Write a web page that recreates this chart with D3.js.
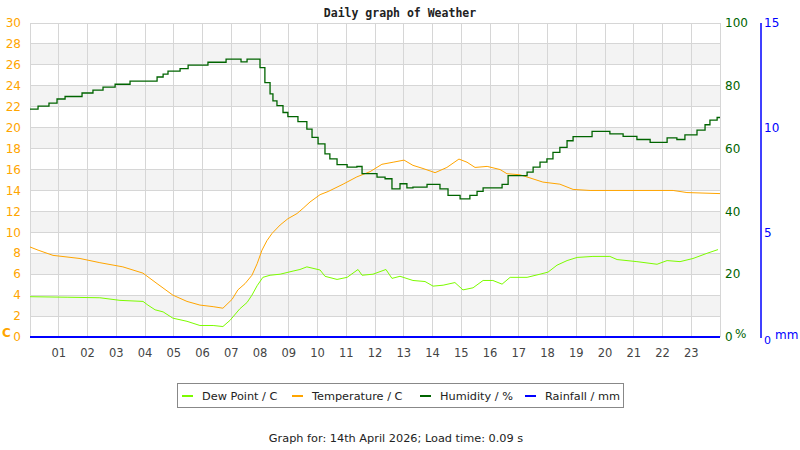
<!DOCTYPE html>
<html>
<head>
<meta charset="utf-8">
<script src="https://cdn.jsdelivr.net/npm/d3@7"></script>
<style>
  body { margin: 0; background: #fff; }
</style>
</head>
<body>
<svg id="chart"></svg>
<script>
const width = 800;
const height = 450;
const margin = { top: 23, right: 80, bottom: 113, left: 30 };

// readings (hour of day, value)
const tempHours = [0.00, 0.28, 0.80, 1.74, 2.43, 3.23, 3.93, 4.42, 4.97, 5.46, 5.91, 6.37, 6.71, 7.03, 7.23, 7.48, 7.72, 7.90,
    8.07, 8.24, 8.42, 8.70, 8.97, 9.29, 9.50, 9.74, 10.09, 10.37, 10.89, 11.37, 11.83, 12.24, 12.63, 13.01, 13.32, 13.67,
    14.09, 14.50, 14.92, 15.20, 15.48, 15.90, 16.35, 16.59, 17.04, 17.39, 17.84, 18.43, 18.89, 19.48, 22.37, 22.85, 24.00];
const temperature = [8.6, 8.3, 7.8, 7.5, 7.1, 6.7, 6.1, 5.1, 4.0, 3.4, 3.05, 2.9, 2.75, 3.6, 4.5, 5.1, 5.9, 7.0,
    8.3, 9.2, 9.9, 10.7, 11.3, 11.8, 12.3, 12.9, 13.6, 13.9, 14.6, 15.3, 15.8, 16.5, 16.7, 16.9, 16.4, 16.1,
    15.7, 16.2, 17.0, 16.7, 16.2, 16.3, 16.0, 15.6, 15.5, 15.2, 14.8, 14.6, 14.1, 14.0, 14.0, 13.8, 13.7];

const dewHours = [0.00, 1.29, 2.43, 3.13, 3.93, 4.10, 4.35, 4.63, 4.97, 5.46, 5.91, 6.37, 6.71, 6.96, 7.30, 7.55, 7.72, 7.90,
    8.10, 8.35, 8.70, 9.15, 9.39, 9.63, 10.09, 10.26, 10.68, 11.03, 11.41, 11.55, 11.93, 12.38, 12.59, 12.87, 13.32, 13.74,
    14.02, 14.37, 14.78, 15.06, 15.41, 15.76, 16.10, 16.42, 16.70, 17.29, 17.74, 18.02, 18.33, 18.68, 19.03, 19.58, 20.17,
    20.42, 21.11, 21.81, 22.16, 22.61, 23.06, 23.55, 23.93];
const dewPoint = [3.85, 3.8, 3.75, 3.5, 3.4, 3.05, 2.6, 2.4, 1.8, 1.5, 1.1, 1.1, 1.0, 1.6, 2.7, 3.3, 4.0, 4.9,
    5.7, 5.9, 6.0, 6.3, 6.45, 6.7, 6.4, 5.8, 5.5, 5.7, 6.45, 5.9, 6.0, 6.45, 5.6, 5.8, 5.4, 5.3,
    4.86, 4.95, 5.2, 4.5, 4.7, 5.4, 5.4, 5.05, 5.7, 5.7, 6.0, 6.2, 6.86, 7.3, 7.6, 7.7, 7.7,
    7.4, 7.2, 6.95, 7.3, 7.2, 7.5, 8.0, 8.35];

const humHours = [0.00, 0.28, 0.66, 0.94, 1.22, 1.81, 2.19, 2.54, 2.96, 3.48, 4.42, 4.63, 4.80, 5.22, 5.50, 6.19, 6.82,
    7.34, 7.55, 7.90, 8.00, 8.17, 8.35, 8.45, 8.59, 8.80, 8.97, 9.32, 9.63, 9.81, 10.02, 10.26, 10.43, 10.68, 11.03,
    11.37, 11.55, 12.07, 12.35, 12.59, 12.87, 13.11, 13.32, 13.81, 14.26, 14.54, 14.96, 15.30, 15.55, 15.76, 16.42,
    16.63, 17.29, 17.50, 17.74, 17.98, 18.19, 18.43, 18.68, 18.89, 19.55, 20.17, 20.63, 21.11, 21.57, 22.16, 22.50,
    22.78, 23.20, 23.48, 23.65, 23.90, 24.00];
const humidity = [72.6, 73.5, 74.5, 75.8, 76.6, 77.7, 78.6, 79.6, 80.5, 81.5, 82.8, 83.7, 84.7, 85.5, 86.6, 87.5, 88.5,
    87.6, 88.5, 88.5, 85.8, 81.0, 77.4, 75.2, 73.7, 71.5, 70.2, 68.6, 66.2, 63.6, 61.5, 58.3, 56.7, 54.9, 54.1,
    54.3, 52.0, 50.9, 50.4, 47.2, 48.8, 47.5, 47.7, 48.6, 47.2, 45.1, 44.0, 45.1, 46.4, 47.5, 48.6,
    51.4, 52.5, 54.1, 55.7, 56.7, 58.8, 60.4, 62.5, 63.8, 65.5, 64.7, 63.9, 62.9, 62.0, 63.4, 62.9,
    64.4, 65.9, 67.6, 69.1, 69.9, 69.9];

const rainHours = [0, 24];
const rainfall = [0, 0];

const hourLabels = ["01", "02", "03", "04", "05", "06", "07", "08", "09", "10", "11", "12",
    "13", "14", "15", "16", "17", "18", "19", "20", "21", "22", "23"];
const tempTicks = [0, 2, 4, 6, 8, 10, 12, 14, 16, 18, 20, 22, 24, 26, 28, 30];
const humTicks = [0, 20, 40, 60, 80, 100];
const rainTicks = [0, 5, 10, 15];

const series = [
    { name: "Dew Point / C", color: "#7cfc00" },
    { name: "Temperature / C", color: "#ffa500" },
    { name: "Humidity / %", color: "#006400" },
    { name: "Rainfall / mm", color: "#0000ff" }
];

const sans = "DejaVu Sans, sans-serif";

const svg = d3.select("#chart")
    .attr("width", width)
    .attr("height", height)
    .attr("font-family", sans);

const x = d3.scaleLinear().domain([0, 24]).range([margin.left, width - margin.right]);
const yT = d3.scaleLinear().domain([0, 30]).range([height - margin.bottom, margin.top]);
const yH = d3.scaleLinear().domain([0, 100]).range([height - margin.bottom, margin.top]);
const yR = d3.scaleLinear().domain([0, 15]).range([height - margin.bottom, margin.top]);

const plotL = x(0), plotR = x(24), plotT = yT(30), plotB = yT(0);

// alternating bands
svg.append("g").selectAll("rect")
    .data(tempTicks.filter(t => t < 30 && t % 4 === 2))
    .enter().append("rect")
    .attr("x", plotL)
    .attr("width", plotR - plotL)
    .attr("y", d => yT(d + 2))
    .attr("height", d => yT(d) - yT(d + 2))
    .attr("fill", "#f3f3f3");

// grid
const grid = svg.append("g").attr("stroke", "#d6d6d6").attr("shape-rendering", "crispEdges");
grid.selectAll(".h").data(tempTicks).enter().append("line")
    .attr("x1", plotL).attr("x2", plotR)
    .attr("y1", d => yT(d)).attr("y2", d => yT(d));
grid.selectAll(".v").data(d3.range(0, 25)).enter().append("line")
    .attr("x1", d => x(d)).attr("x2", d => x(d))
    .attr("y1", plotT).attr("y2", plotB);

// left axis labels
svg.append("g").selectAll("text")
    .data(tempTicks).enter().append("text")
    .attr("x", 21).attr("y", d => yT(d)).attr("dy", "0.35em")
    .attr("text-anchor", "end")
    .attr("font-size", 12)
    .attr("fill", "#ffa500")
    .text(d => d);
svg.append("text").attr("x", 2).attr("y", 337).attr("font-size", 12).attr("font-weight", "bold")
    .attr("fill", "#ffa500").text("C");

// humidity axis labels
svg.append("g").selectAll("text")
    .data(humTicks).enter().append("text")
    .attr("x", plotR + 5).attr("y", d => yH(d)).attr("dy", "0.35em")
    .attr("font-size", 12)
    .attr("fill", "#006400")
    .text(d => d);
svg.append("text").attr("x", plotR + 15).attr("y", 338).attr("font-size", 12)
    .attr("fill", "#006400").text("%");

// rainfall axis
const rainX = 761;
svg.append("line").attr("x1", rainX).attr("x2", rainX).attr("y1", plotT).attr("y2", plotB + 1)
    .attr("stroke", "#0000ff").attr("stroke-width", 1.5);
svg.append("g").selectAll("text")
    .data(rainTicks).enter().append("text")
    .attr("x", rainX + 3).attr("y", d => yR(d) + (d === 0 ? 3 : 0)).attr("dy", "0.35em")
    .attr("font-size", d => d === 0 ? 11 : 12)
    .attr("fill", "#0000ff")
    .text(d => d);
svg.append("text").attr("x", rainX + 14).attr("y", 339).attr("font-size", 12)
    .attr("fill", "#0000ff").text("mm");

// hour labels
svg.append("g").selectAll("text")
    .data(hourLabels).enter().append("text")
    .attr("x", (d, i) => x(i + 1)).attr("y", 357)
    .attr("text-anchor", "middle")
    .attr("font-size", 11.5)
    .attr("fill", "#444")
    .text(d => d);

// series lines
const lineOf = (hours, vals, y, curve) => d3.line()
    .x((d, i) => x(hours[i]))
    .y(d => y(d))
    .curve(curve)(vals);

svg.append("path").attr("d", lineOf(dewHours, dewPoint, yT, d3.curveLinear))
    .attr("fill", "none").attr("stroke", "#7cfc00").attr("stroke-width", 1);
svg.append("path").attr("d", lineOf(tempHours, temperature, yT, d3.curveLinear))
    .attr("fill", "none").attr("stroke", "#ffa500").attr("stroke-width", 1);
svg.append("path").attr("d", lineOf(humHours, humidity, yH, d3.curveStepAfter))
    .attr("fill", "none").attr("stroke", "#006400").attr("stroke-width", 1.3);
svg.append("path").attr("d", lineOf(rainHours, rainfall, yR, d3.curveLinear))
    .attr("fill", "none").attr("stroke", "#0000ff").attr("stroke-width", 2);

// title
svg.append("text")
    .attr("id", "title")
    .attr("x", width / 2).attr("y", 17)
    .attr("text-anchor", "middle")
    .attr("font-family", "DejaVu Sans Mono, monospace")
    .attr("font-weight", "bold")
    .attr("font-size", 11.5)
    .attr("fill", "#222")
    .text("Daily graph of Weather");

// legend
const legend = svg.append("g");
legend.append("rect")
    .attr("x", 177.5).attr("y", 383.5).attr("width", 446).attr("height", 24)
    .attr("fill", "#fff").attr("stroke", "#888");
const legendX = [182, 292, 420, 525];
series.forEach((s, i) => {
    legend.append("line")
        .attr("x1", legendX[i]).attr("x2", legendX[i] + 11)
        .attr("y1", 396).attr("y2", 396)
        .attr("stroke", s.color).attr("stroke-width", 2);
    legend.append("text")
        .attr("x", legendX[i] + 20).attr("y", 396).attr("dy", "0.35em")
        .attr("font-size", 11.3).attr("fill", "#222")
        .text(s.name);
});

// footer
svg.append("text")
    .attr("x", 396).attr("y", 442)
    .attr("text-anchor", "middle")
    .attr("font-size", 11.3).attr("fill", "#222")
    .text("Graph for: 14th April 2026; Load time: 0.09 s");
</script>
</body>
</html>
